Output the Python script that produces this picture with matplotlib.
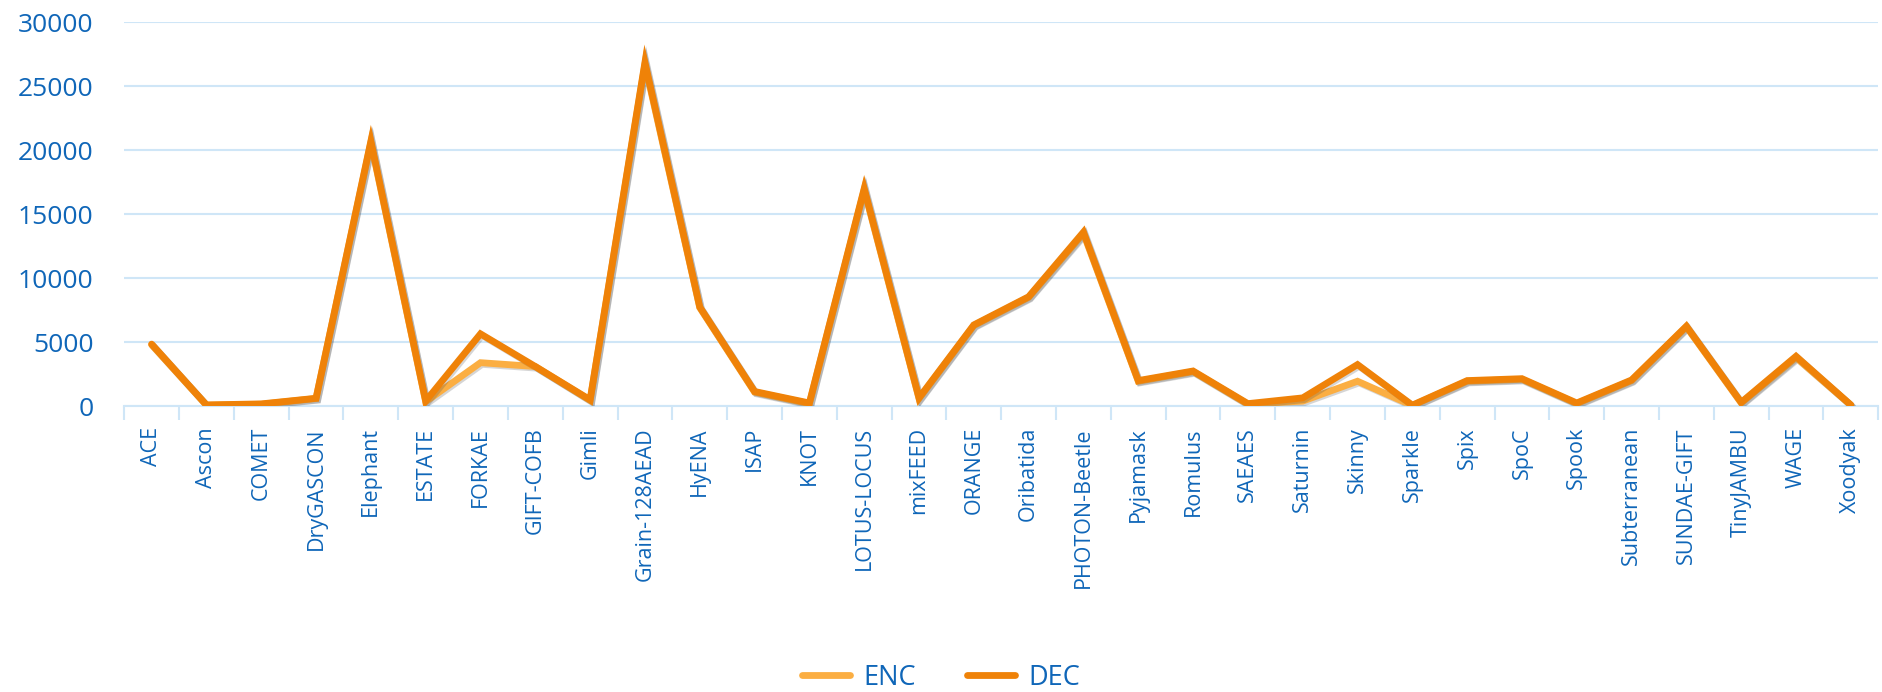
import numpy as np
import matplotlib
matplotlib.use('Agg')
import matplotlib.pyplot as plt
import matplotlib.patheffects as pe

schemes = ['ACE', 'Ascon', 'COMET', 'DryGASCON', 'Elephant', 'ESTATE', 'FORKAE',
           'GIFT-COFB', 'Gimli', 'Grain-128AEAD', 'HyENA', 'ISAP', 'KNOT',
           'LOTUS-LOCUS', 'mixFEED', 'ORANGE', 'Oribatida', 'PHOTON-Beetle',
           'Pyjamask', 'Romulus', 'SAEAES', 'Saturnin', 'Skinny', 'Sparkle',
           'Spix', 'SpoC', 'Spook', 'Subterranean', 'SUNDAE-GIFT', 'TinyJAMBU',
           'WAGE', 'Xoodyak']

enc = [4800, 80, 150, 600, 20600, 350, 3400, 3100, 450, 26700, 7700, 1100, 200,
       16900, 600, 6300, 8500, 13500, 1950, 2700, 150, 400, 1950, 50, 1950,
       2100, 200, 2000, 6200, 250, 3800, 80]
dec = [4850, 100, 180, 620, 20700, 400, 5650, 3100, 500, 26850, 7750, 1150, 250,
       17000, 650, 6350, 8550, 13600, 2000, 2750, 200, 650, 3250, 80, 2000,
       2150, 250, 2050, 6250, 300, 3900, 100]

BLUE = '#0F66B8'
GRID = '#CFE6F7'

fig = plt.figure(figsize=(18.82, 6.92), dpi=100)
ax = fig.add_axes([0.066, 0.413, 0.932, 0.555])

x = np.arange(len(schemes))
shadow = [pe.SimpleLineShadow(offset=(1.2, -1.2), shadow_color='#444444', alpha=0.22), pe.Normal()]
ax.plot(x, enc, color='#FBAE42', linewidth=4.9, label='ENC', solid_joinstyle='miter',
        solid_capstyle='round', path_effects=shadow, zorder=3)
ax.plot(x, dec, color='#EF8208', linewidth=4.9, label='DEC', solid_joinstyle='miter',
        solid_capstyle='round', path_effects=shadow, zorder=4)

ax.set_xlim(-0.5, len(schemes) - 0.5)
ax.set_ylim(0, 30000)
ax.set_yticks(range(0, 30001, 5000))
ax.yaxis.grid(True, color=GRID, linewidth=1.5)
ax.set_axisbelow(True)

ax.set_xticks(x)
ax.set_xticklabels(schemes, rotation=90, fontsize=15.5, color=BLUE)
ax.set_xticks(np.arange(-0.5, len(schemes), 1), minor=True)
ax.tick_params(axis='x', which='major', length=0, pad=15)
ax.tick_params(axis='x', which='minor', length=10, width=1.5, color=GRID)
ax.tick_params(axis='y', length=0, labelsize=19, labelcolor=BLUE, pad=22)

for s in ['top', 'right', 'left']:
    ax.spines[s].set_visible(False)
ax.spines['bottom'].set_color(GRID)
ax.spines['bottom'].set_linewidth(1.5)

for t in ax.get_xticklabels() + ax.get_yticklabels():
    t.set_family('Open Sans')

leg = fig.legend(loc='lower center', bbox_to_anchor=(0.5, -0.035), ncol=2, frameon=False,
                 handlelength=1.75, columnspacing=1.9, handletextpad=0.5,
                 prop={'family': 'Open Sans', 'size': 19.5})
for t in leg.get_texts():
    t.set_color(BLUE)
for h in leg.legend_handles:
    h.set_path_effects([])
    h.set_solid_capstyle('round')

fig.savefig('out.png', dpi=100)
